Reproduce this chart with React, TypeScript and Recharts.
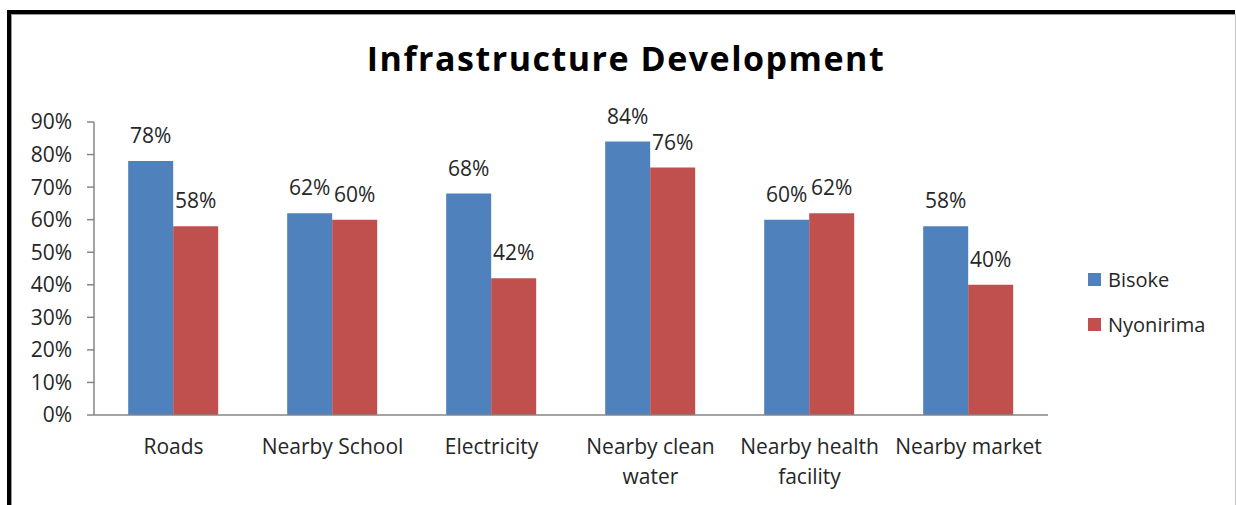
import React from "react";
import { BarChart, Bar, XAxis, YAxis, LabelList } from "recharts";

const categories = [
  "Roads",
  "Nearby School",
  "Electricity",
  "Nearby clean\nwater",
  "Nearby health\nfacility",
  "Nearby market",
];
const bisoke = [78, 62, 68, 84, 60, 58];
const nyonirima = [58, 60, 42, 76, 62, 40];
const seriesNames = ["Bisoke", "Nyonirima"];
const seriesColors = ["#4F81BD", "#C0504D"];
const yTicks = [0, 10, 20, 30, 40, 50, 60, 70, 80, 90];
const title = "Infrastructure Development";

const data = categories.map((c, i) => ({ name: c, Bisoke: bisoke[i], Nyonirima: nyonirima[i] }));

const FONT = "'Open Sans', sans-serif";
const TEXT = "#262626";

const XTick = (props: any) => {
  const { x, y, payload } = props;
  const lines = String(payload.value).split("\n");
  return (
    <text x={x} y={y} textAnchor="middle" fill={TEXT} fontSize={21} fontFamily={FONT}>
      {lines.map((l, i) => (
        <tspan key={i} x={x} dy={i === 0 ? 31 : 30}>
          {l}
        </tspan>
      ))}
    </text>
  );
};

export default function App() {
  return (
    <div style={{ position: "absolute", left: 0, top: 0, width: 1236, height: 505, background: "#fff", overflow: "hidden" }}>
      <div
        style={{
          position: "absolute",
          left: 7,
          top: 10,
          width: 1228,
          height: 520,
          borderTop: "4px solid #000",
          borderLeft: "4px solid #000",
          boxSizing: "border-box",
        }}
      />
      <div style={{ position: "absolute", left: 11, top: 14, width: 1224, height: 1, background: "#999" }} />
      <div style={{ position: "absolute", left: 11, top: 14, width: 1, height: 500, background: "#999" }} />
      <div style={{ position: "absolute", left: 1235, top: 14, width: 1, height: 500, background: "#c8c8c8" }} />
      <div
        style={{
          position: "absolute",
          left: 0,
          width: 1252,
          top: 35,
          textAlign: "center",
          fontFamily: FONT,
          fontWeight: 700,
          fontSize: 34,
          lineHeight: "normal",
          color: "#000",
          letterSpacing: 1.5,
          whiteSpace: "nowrap",
        }}
      >
        {title}
      </div>
      <div style={{ position: "absolute", left: 0, top: 0 }}>
        <BarChart
          width={1236}
          height={505}
          data={data}
          margin={{ top: 122, right: 188, bottom: 30, left: 14 }}
          barCategoryGap="21.5%"
          barGap={0}
        >
          <XAxis
            dataKey="name"
            height={60}
            tickLine={false}
            axisLine={{ stroke: "#868686", strokeWidth: 1.5 }}
            tick={<XTick />}
            interval={0}
          />
          <YAxis
            width={80}
            domain={[0, 90]}
            ticks={yTicks}
            interval={0}
            tickFormatter={(v: number) => `${v}%`}
            axisLine={{ stroke: "#868686", strokeWidth: 1.5 }}
            tickLine={{ stroke: "#868686", strokeWidth: 1.5 }}
            tickSize={7}
            tickMargin={15}
            tick={{ fill: TEXT, fontSize: 21, fontFamily: FONT }}
          />
          {seriesNames.map((s, i) => (
            <Bar key={s} dataKey={s} fill={seriesColors[i]} isAnimationActive={false}>
              <LabelList
                dataKey={s}
                position="top"
                offset={18}
                formatter={(v: any) => `${v}%`}
                fill={TEXT}
                fontSize={21}
                fontFamily={FONT}
              />
            </Bar>
          ))}
        </BarChart>
      </div>
      {seriesNames.map((s, i) => (
        <div
          key={s}
          style={{
            position: "absolute",
            left: 1088,
            top: 265 + i * 45,
            display: "flex",
            alignItems: "center",
            fontFamily: FONT,
            fontSize: 20,
            color: TEXT,
            height: 28,
          }}
        >
          <span style={{ display: "inline-block", width: 13, height: 13, background: seriesColors[i], marginRight: 7 }} />
          <span>{s}</span>
        </div>
      ))}
    </div>
  );
}
